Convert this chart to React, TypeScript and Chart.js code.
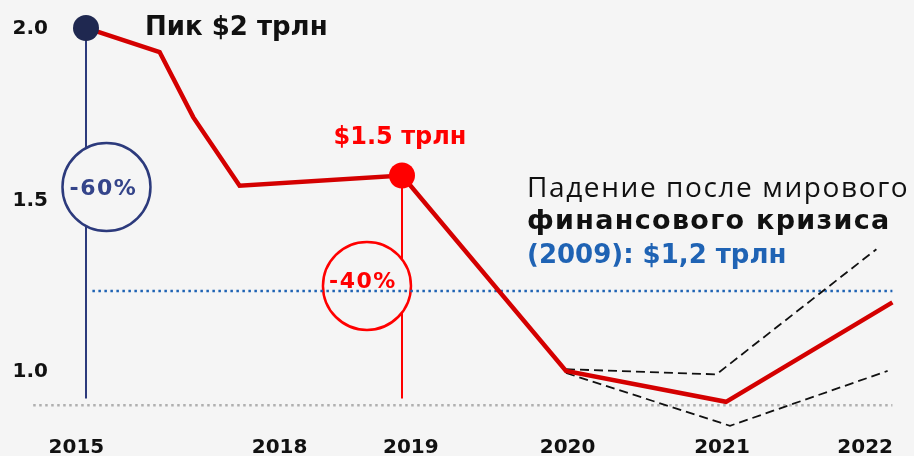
import React, { useEffect, useRef } from 'react';
import { Chart, registerables } from 'chart.js';
Chart.register(...registerables);

const BG = '#f5f5f5';
const RED_LINE = '#d40000';
const RED = '#ff0000';
const NAVY = '#2c3a7c';
const NAVY_DOT = '#1f2850';
const BLUE = '#1f63b4';
const BOLD = '"DejaVu Sans", "Open Sans", sans-serif';
const REG = '"Open Sans", "Noto Sans", sans-serif';

// non-uniform time axis: positions of the tick labels
const xTickPositions = [2016.94, 2018.21, 2019.03, 2020.01, 2020.975, 2021.87];
const xTickLabels = ['2015', '2018', '2019', '2020', '2021', '2022'];
const yTickValues = [1.0, 1.5, 2.0];
const yTickLabels = ['1.0', '1.5', '2.0'];

// main series ($ trillion)
const mainX = [2017.0, 2017.46, 2017.67, 2017.96, 2018.975, 2020.0, 2021.0, 2022.04];
const mainY = [2.0, 1.93, 1.74, 1.54, 1.57, 1.0, 0.91, 1.2];
// forecast range (dashed)
const upperX = [2020.0, 2020.94, 2021.94];
const upperY = [1.005, 0.99, 1.355];
const lowerX = [2020.0, 2021.025, 2022.01];
const lowerY = [0.994, 0.84, 1.0];
// reference levels
const crisisLevel = 1.233;
const crisisFrom = 2017.04;
const crisisTo = 2022.04;
const floorLevel = 0.9;
const floorFrom = 2016.67;
const floorTo = 2022.04;
// highlighted points
const peakX = 2017.0;
const peakY = 2.0;
const preX = 2018.975;
const preY = 1.57;
const stemBottom = 0.92;
const drop60X = 2017.128;
const drop60Y = 1.536;
const drop40X = 2018.756;
const drop40Y = 1.248;

const xMin = 2016.4625;
const xMax = 2022.175;
const yMin = 0.752;
const yMax = 2.0816;

const zip = (xs: number[], ys: number[]) => xs.map((x, i) => ({ x, y: ys[i] }));

const textPlugin = {
  id: 'texts',
  afterDatasetsDraw(chart: any) {
    const { ctx, scales } = chart;
    const xs = scales.x;
    const ys = scales.y;
    ctx.save();
    const ls = (v: string) => { try { (ctx as any).letterSpacing = v; } catch (e) {} };
    // y tick labels
    ctx.fillStyle = '#111';
    ctx.font = `bold 20px ${BOLD}`;
    ctx.textAlign = 'right';
    ctx.textBaseline = 'middle';
    yTickValues.forEach((v, i) => {
      ctx.fillText(yTickLabels[i], 48, ys.getPixelForValue(v) + 1);
    });
    // x tick labels
    ctx.textAlign = 'center';
    ctx.textBaseline = 'alphabetic';
    xTickPositions.forEach((v, i) => {
      ctx.fillText(xTickLabels[i], xs.getPixelForValue(v), 453);
    });
    // circle labels
    ctx.textBaseline = 'middle';
    ctx.font = `bold 22px ${BOLD}`;
    ls('1.5px');
    ctx.fillStyle = '#34448a';
    ctx.fillText('-60%', xs.getPixelForValue(drop60X) - 3, ys.getPixelForValue(drop60Y) + 2);
    ctx.fillStyle = RED;
    ctx.fillText('-40%', xs.getPixelForValue(drop40X) - 4, ys.getPixelForValue(drop40Y) - 4);
    ls('0px');
    // peak label
    ctx.textAlign = 'left';
    ctx.fillStyle = '#111';
    ctx.font = `bold 26px ${BOLD}`;
    ctx.fillText('Пик $2 трлн', xs.getPixelForValue(peakX) + 59, ys.getPixelForValue(peakY));
    // pre-crisis label
    ctx.textAlign = 'center';
    ctx.fillStyle = RED;
    ctx.font = `bold 24px ${BOLD}`;
    ctx.fillText('$1.5 трлн', xs.getPixelForValue(preX) - 2, ys.getPixelForValue(preY) - 38);
    // annotation block
    ctx.textAlign = 'left';
    ctx.fillStyle = '#111';
    ctx.font = `28px ${REG}`;
    ls('1.6px');
    ctx.fillText('Падение после мирового', 527, 189);
    ctx.font = `bold 27px ${BOLD}`;
    ls('1.3px');
    ctx.fillText('финансового кризиса', 527, 222);
    ls('0px');
    ctx.font = `bold 26px ${BOLD}`;
    ctx.fillStyle = BLUE;
    ctx.fillText('(2009): $1,2 трлн', 527, 256);
    ctx.restore();
  },
};

export default function App() {
  const ref = useRef<HTMLCanvasElement | null>(null);
  useEffect(() => {
    if (!ref.current) return;
    const chart = new Chart(ref.current, {
      type: 'line',
      data: {
        datasets: [
          {
            label: 'floor',
            data: [{ x: floorFrom, y: floorLevel }, { x: floorTo, y: floorLevel }],
            borderColor: '#b0b0b0',
            borderWidth: 2.5,
            borderDash: [2.5, 3.5],
            pointRadius: 0,
            order: 10,
          },
          {
            label: 'stem60',
            data: [{ x: peakX, y: peakY }, { x: peakX, y: stemBottom }],
            borderColor: NAVY,
            borderWidth: 2,
            pointRadius: 0,
            order: 9,
          },
          {
            label: 'stem40',
            data: [{ x: preX, y: preY }, { x: preX, y: stemBottom }],
            borderColor: RED,
            borderWidth: 2,
            pointRadius: 0,
            order: 9,
          },
          {
            label: 'circle60',
            type: 'scatter',
            data: [{ x: drop60X, y: drop60Y }],
            pointRadius: 44,
            pointBackgroundColor: BG,
            pointBorderColor: NAVY,
            pointBorderWidth: 2.5,
            order: 8,
          },
          {
            label: 'circle40',
            type: 'scatter',
            data: [{ x: drop40X, y: drop40Y }],
            pointRadius: 44,
            pointBackgroundColor: BG,
            pointBorderColor: RED,
            pointBorderWidth: 2.5,
            order: 8,
          },
          {
            label: 'crisis',
            data: [{ x: crisisFrom, y: crisisLevel }, { x: crisisTo, y: crisisLevel }],
            borderColor: BLUE,
            borderWidth: 2.5,
            borderDash: [2.5, 3.5],
            pointRadius: 0,
            order: 7,
          },
          {
            label: 'upper',
            data: zip(upperX, upperY),
            borderColor: '#111',
            borderWidth: 1.8,
            borderDash: [9, 5],
            pointRadius: 0,
            order: 6,
          },
          {
            label: 'lower',
            data: zip(lowerX, lowerY),
            borderColor: '#111',
            borderWidth: 1.8,
            borderDash: [9, 5],
            pointRadius: 0,
            order: 6,
          },
          {
            label: 'main',
            data: zip(mainX, mainY),
            borderColor: RED_LINE,
            borderWidth: 4.5,
            pointRadius: 0,
            order: 5,
          },
          {
            label: 'dots',
            type: 'scatter',
            data: [{ x: peakX, y: peakY }, { x: preX, y: preY }],
            pointRadius: 13,
            pointBackgroundColor: [NAVY_DOT, RED],
            pointBorderWidth: 0,
            order: 4,
          },
        ],
      },
      options: {
        animation: false,
        responsive: true,
        maintainAspectRatio: false,
        layout: { padding: 0, autoPadding: false },
        plugins: { legend: { display: false }, tooltip: { enabled: false } },
        elements: { line: { tension: 0 } },
        scales: {
          x: { type: 'linear', min: xMin, max: xMax, display: false },
          y: { type: 'linear', min: yMin, max: yMax, display: false },
        },
      },
      plugins: [textPlugin],
    });
    return () => chart.destroy();
  }, []);
  return (
    <div style={{ position: 'fixed', left: 0, top: 0, width: 914, height: 456, background: BG }}>
      <canvas ref={ref} />
    </div>
  );
}
